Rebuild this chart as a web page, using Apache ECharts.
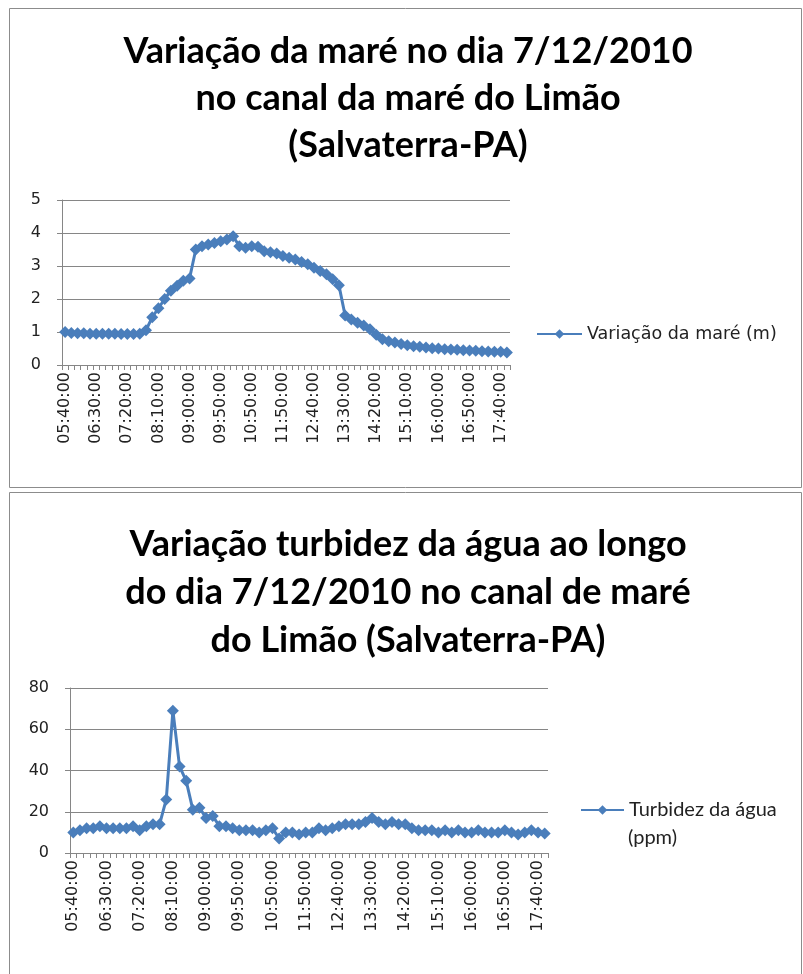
<!DOCTYPE html>
<html>
<head>
<meta charset="utf-8">
<script src="https://cdn.jsdelivr.net/npm/echarts@6/dist/echarts.min.js"></script>
<style>
  html, body { margin: 0; padding: 0; background: #fff; }
  #chart { width: 803px; height: 974px; }
</style>
</head>
<body>
<div id="chart"></div>
<script>
// horários das medições (intervalos de 10 min, faltam 10:30 e 11:30)
const horarios = [
  '05:40:00', '05:50:00', '06:00:00', '06:10:00', '06:20:00', '06:30:00', '06:40:00', '06:50:00',
  '07:00:00', '07:10:00', '07:20:00', '07:30:00', '07:40:00', '07:50:00', '08:00:00', '08:10:00',
  '08:20:00', '08:30:00', '08:40:00', '08:50:00', '09:00:00', '09:10:00', '09:20:00', '09:30:00',
  '09:40:00', '09:50:00', '10:00:00', '10:10:00', '10:20:00', '10:40:00', '10:50:00', '11:00:00',
  '11:10:00', '11:20:00', '11:40:00', '11:50:00', '12:00:00', '12:10:00', '12:20:00', '12:30:00',
  '12:40:00', '12:50:00', '13:00:00', '13:10:00', '13:20:00', '13:30:00', '13:40:00', '13:50:00',
  '14:00:00', '14:10:00', '14:20:00', '14:30:00', '14:40:00', '14:50:00', '15:00:00', '15:10:00',
  '15:20:00', '15:30:00', '15:40:00', '15:50:00', '16:00:00', '16:10:00', '16:20:00', '16:30:00',
  '16:40:00', '16:50:00', '17:00:00', '17:10:00', '17:20:00', '17:30:00', '17:40:00', '17:50:00'
]

// variação da maré (m)
const mare = [
  1.0, 0.97, 0.96, 0.96, 0.95, 0.95, 0.95, 0.95, 0.95, 0.94, 0.94, 0.94,
  0.95, 1.05, 1.45, 1.72, 2.0, 2.25, 2.4, 2.55, 2.62, 3.5, 3.6, 3.65,
  3.7, 3.75, 3.8, 3.9, 3.6, 3.55, 3.6, 3.58, 3.45, 3.42, 3.38, 3.3,
  3.25, 3.2, 3.12, 3.05, 2.95, 2.85, 2.75, 2.6, 2.42, 1.5, 1.38, 1.28,
  1.2, 1.08, 0.92, 0.78, 0.72, 0.68, 0.64, 0.6, 0.57, 0.55, 0.53, 0.51,
  0.5, 0.48, 0.47, 0.46, 0.45, 0.44, 0.43, 0.42, 0.41, 0.4, 0.4, 0.38
]

// turbidez da água (ppm)
const turbidez = [
  10, 11, 12, 12, 13, 12, 12, 12, 12, 13, 11, 13,
  14, 14, 26, 69, 42, 35, 21, 22, 17, 18, 13, 13,
  12, 11, 11, 11, 10, 11, 12, 7, 10, 10, 9, 10,
  10, 12, 11, 12, 13, 14, 14, 14, 15, 17, 15, 14,
  15, 14, 14, 12, 11, 11, 11, 10, 11, 10, 11, 10,
  10, 11, 10, 10, 10, 11, 10, 9, 10, 11, 10, 9.5
]

const tituloMare = 'Variação da maré no dia 7/12/2010\nno canal da maré do Limão\n(Salvaterra-PA)'
const tituloTurbidez = 'Variação turbidez da água ao longo\ndo dia 7/12/2010 no canal de maré\ndo Limão (Salvaterra-PA)'
const nomeMare = 'Variação da maré (m)'
const nomeTurbidez = 'Turbidez da água (ppm)'

const azul = '#4a7ebb'
const cinza = '#868686'
const fonte = '"DejaVu Sans", sans-serif'
const fonteTitulo = 'Lato, sans-serif'

const chart = echarts.init(document.getElementById('chart'), null, { renderer: 'canvas' })

const eixoX = (grid) => ({
  type: 'category',
  gridIndex: grid,
  data: horarios,
  boundaryGap: true,
  axisLine: { lineStyle: { color: cinza, width: 1 } },
  axisTick: { show: true, interval: 0, length: 5, lineStyle: { color: cinza } },
  axisLabel: { interval: 4, rotate: 90, fontSize: 16, color: '#222', fontFamily: fonte, margin: 7 },
  splitLine: { show: false }
})

const eixoY = (grid, max, step) => ({
  type: 'value',
  gridIndex: grid,
  min: 0,
  max: max,
  interval: step,
  axisLine: { show: true, lineStyle: { color: cinza } },
  axisTick: { show: true, length: 5, lineStyle: { color: cinza } },
  axisLabel: { fontSize: 16, color: '#222', fontFamily: fonte, margin: 21 },
  splitLine: { lineStyle: { color: cinza, width: 1 } }
})

const serie = (nome, dados, idx) => ({
  name: nome,
  type: 'line',
  xAxisIndex: idx,
  yAxisIndex: idx,
  data: dados,
  symbol: 'diamond',
  symbolSize: 12,
  showAllSymbol: true,
  itemStyle: { color: azul },
  lineStyle: { color: azul, width: 3 },
  animation: false
})

const option = {
  backgroundColor: '#fff',
  animation: false,
  graphic: [
    { type: 'rect', shape: { x: 9.5, y: 8.5, width: 792, height: 479 },
      style: { fill: 'none', stroke: '#8c8c8c', lineWidth: 1 } },
    { type: 'rect', shape: { x: 9.5, y: 492.5, width: 792, height: 490 },
      style: { fill: 'none', stroke: '#8c8c8c', lineWidth: 1 } },
    { type: 'text', left: 628, top: 828,
      style: { text: '(ppm)', font: '20px ' + fonteTitulo, fill: '#222' } }
  ],
  title: [
    {
      text: tituloMare,
      left: 408,
      top: 28,
      padding: 0,
      textAlign: 'center',
      textStyle: { fontFamily: fonteTitulo, fontWeight: 'bold', fontSize: 36, lineHeight: 47, color: '#000', align: 'center' }
    },
    {
      text: tituloTurbidez,
      left: 408,
      top: 520,
      padding: 0,
      textAlign: 'center',
      textStyle: { fontFamily: fonteTitulo, fontWeight: 'bold', fontSize: 36, lineHeight: 48, color: '#000', align: 'center' }
    }
  ],
  legend: [
    {
      data: [nomeMare],
      left: 536,
      top: 325,
      padding: 0,
      itemWidth: 45,
      itemHeight: 12,
      textStyle: { fontFamily: fonte, fontSize: 17.5, color: '#222' }
    },
    {
      data: [nomeTurbidez],
      left: 580,
      top: 800,
      padding: 0,
      itemWidth: 43,
      itemHeight: 12,
      formatter: (n) => n.split(' (')[0],
      textStyle: { fontFamily: fonteTitulo, fontSize: 20, color: '#222' }
    }
  ],
  grid: [
    { left: 62, right: 293, top: 200, height: 165 },
    { left: 70, right: 255, top: 688, height: 165 }
  ],
  xAxis: [eixoX(0), eixoX(1)],
  yAxis: [eixoY(0, 5, 1), eixoY(1, 80, 20)],
  series: [serie(nomeMare, mare, 0), serie(nomeTurbidez, turbidez, 1)]
}

chart.setOption(option)
</script>
</body>
</html>
